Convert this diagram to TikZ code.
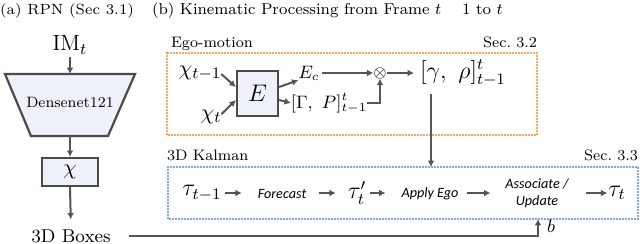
\documentclass[tikz,border=0pt]{standalone}
\usepackage{amsmath}
\usepackage{fontspec}
\newfontfamily\calib{Carlito}
\usetikzlibrary{arrows.meta,calc}
\definecolor{arrgray}{HTML}{555555}
\definecolor{boxgray}{HTML}{4A4A4A}
\definecolor{boxfill}{HTML}{EEF2F8}
\definecolor{egoor}{HTML}{F4883A}
\definecolor{kalbl}{HTML}{5B8AD8}
\newcommand{\fs}[1]{\fontsize{#1}{#1}\selectfont}
\tikzset{
  arr/.style={draw=arrgray, line width=1pt, -{Latex[length=3.2pt,width=3.4pt]}},
  fbox/.style={draw=boxgray, line width=1.1pt, fill=boxfill},
  txt/.style={inner sep=0pt, outer sep=0pt},
  dotframe/.style={line width=1.2pt, line cap=round, dash pattern=on 0pt off 1.5pt},
  sans/.style={txt, font=\fs{7.1}\calib\itshape},
}
\begin{document}
\begin{tikzpicture}[x=0.5pt,y=-0.5pt]
\useasboundingbox (0,0) rectangle (640,243);
% titles
\node[txt, anchor=base west, font=\fs{7.4}] (ta) at (0,14.5) {(a) RPN (Sec 3.1)};
\node[txt, anchor=base west, font=\fs{7.9}] (tb) at (152,14.5) {(b) Kinematic Processing from Frame $t\phantom{{}-{}}1$ to $t$};
% (a) RPN
\node[txt, font=\fs{11}] (im) at (70,45) {$\mathrm{IM}_t$};
\draw[fbox] (5,74) -- (135,74) -- (108,136) -- (31,136) -- cycle;
\coordinate (dtop) at (70,74);
\coordinate (dbot) at (70,136);
\node[txt, font=\fs{7.5}] (dn) at (70,102) {Densenet121};
\draw[arr, shorten <=1.5pt] (im.south) -- (dtop);
\node[fbox, minimum width=28pt, minimum height=14pt, inner sep=0pt, font=\fs{11}] (chi) at (70,172) {$\chi$};
\draw[arr] (dbot) -- (chi.north);
\node[txt, font=\fs{9.3}] (boxes) at (71,236) {3D Boxes};
\draw[arr, shorten >=5pt] (chi.south) -- (boxes.north);
% Ego-motion frame
\draw[egoor, dotframe] (167,53) rectangle (537,135);
\node[txt, anchor=base west, font=\fs{7.6}] (egol) at (171,47) {Ego-motion};
\node[txt, anchor=base east, font=\fs{7.6}] (s32) at (537,47) {Sec.~3.2};
\node[txt, font=\fs{11}] (ca) at (200,73) {$\chi_{t-1}$};
\node[txt, font=\fs{11}] (cb) at (211,117) {$\chi_t$};
\node[fbox, minimum width=20.5pt, minimum height=22.5pt, inner sep=0pt, font=\fs{13}] (E) at (257.5,93.5) {$E$};
\draw[arr] ([yshift=-0.5pt]ca.east) -- ([yshift=3.25pt]E.west);
\draw[arr] ([yshift=-2pt]cb.north east) -- ([yshift=-3.25pt]E.west);
\node[txt, font=\fs{9}] (Ec) at (309,73) {$E_c$};
\node[txt, font=\fs{9}] (GP) at (329,103) {$[\Gamma,\ P]^t_{t-1}$};
\draw[arr] ([yshift=3.25pt]E.east) -- (Ec.south west);
\draw[arr] ([yshift=-3.25pt]E.east) -- (GP.west);
\node[txt, font=\fs{8.5}] (ot) at (380,73) {$\otimes$};
\draw[arr, shorten <=1pt] (Ec.east) -- (ot.west);
\draw[arr] (GP.east) -| (ot.south);
\node[txt, anchor=west, font=\fs{12}] (gr) at (420,73) {$[\gamma,\ \rho]^t_{t-1}$};
\draw[arr, shorten >=3pt] (ot.east) -- (gr.west);
% 3D Kalman frame
\coordinate (kt) at (431,167);
\coordinate (kb) at (538,219);
\draw[arr, shorten <=4pt] (gr.south west -| kt) -- (kt);
\draw[kalbl, dotframe] (168,167) rectangle (638,219);
\node[txt, anchor=base west, font=\fs{7.6}] (kall) at (167,160) {3D Kalman};
\node[txt, anchor=base east, font=\fs{7.6}] (s33) at (638,160) {Sec.~3.3};
\node[txt, font=\fs{12}] (t0) at (202,193) {$\tau_{t-1}$};
\node[sans] (fc) at (282,194) {Forecast};
\node[txt, font=\fs{12}] (t1) at (357,193) {$\tau'_t$};
\node[sans] (ae) at (430,194) {Apply Ego};
\node[sans, align=center, font=\fontsize{7.1}{8.7}\selectfont\calib\itshape] (au) at (537,193) {Associate /\\Update};
\node[txt, font=\fs{12}] (t2) at (617,193) {$\tau_t$};
\draw[arr, shorten <=1.5pt, shorten >=8pt] (t0.east |- 0,193) -- (fc.west |- 0,193);
\draw[arr, shorten <=6.5pt, shorten >=6pt] (fc.east |- 0,193) -- (t1.west |- 0,193);
\draw[arr, shorten <=2pt, shorten >=8pt] (t1.east |- 0,193) -- (ae.west |- 0,193);
\draw[arr, shorten <=4.5pt, shorten >=7.5pt] (ae.east |- 0,193) -- (au.west |- 0,193);
\draw[arr, shorten <=8.5pt, shorten >=0.5pt] (au.east |- 0,193) -- (t2.west |- 0,193);
% boxes to Kalman
\draw[arr, line width=1.4pt] ([xshift=9pt]boxes.east) -| (kb);
\node[txt, font=\fs{9}] (b) at (551,226) {$b$};
\end{tikzpicture}
\end{document}
